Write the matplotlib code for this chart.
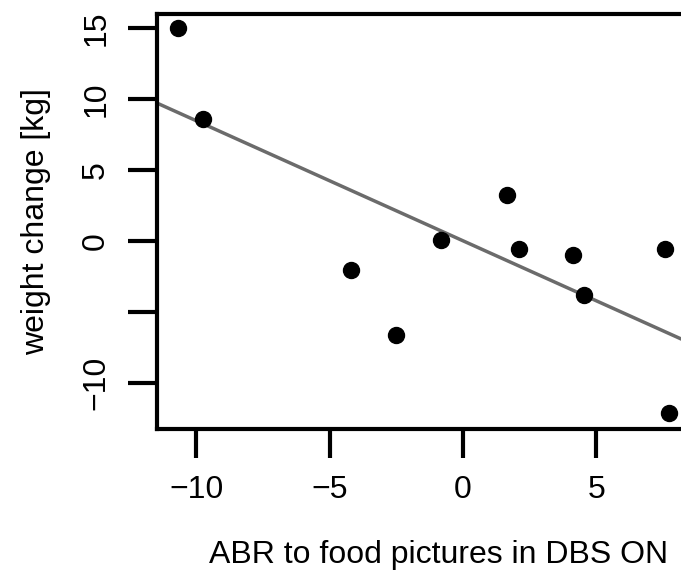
import numpy as np
import matplotlib
matplotlib.use("Agg")
import matplotlib.pyplot as plt

# =====================================
# DATA
# =====================================

abr = [-10.69, -9.75, -4.20, -2.51, -0.82, 1.65, 2.10, 4.12, 4.54, 7.57, 7.72]
weight = [15.0, 8.6, -2.04, -6.62, 0.07, 3.24, -0.56, -0.99, -3.80, -0.56, -12.1]

fit_intercept = 0.02
fit_slope = -0.846

x_ticks = [-10, -5, 0, 5]
x_labels = ["\u221210", "\u22125", "0", "5"]
y_ticks = [-10, -5, 0, 5, 10, 15]
y_labels = ["\u221210", "", "0", "5", "10", "15"]

# =====================================
# PLOT
# =====================================

plt.rcParams["font.family"] = ["Liberation Sans", "DejaVu Sans"]

fig = plt.figure(figsize=(6.81, 5.80), dpi=100)
# the plot box runs on past the right edge of the picture (cropped, as in the original)
ax = fig.add_axes([157 / 681, 1 - 429 / 580, (721 - 157) / 681, (429 - 14) / 580])

ax.plot(abr, weight, "o", color="black", markersize=11.5, zorder=3)
ax.axline((0, fit_intercept), slope=fit_slope, color="#6b6b6b", linewidth=2.5, zorder=2)

ax.set_xlim(-11.47, 9.67)
ax.set_ylim(-13.24, 16.0)

ax.set_xticks(x_ticks)
ax.set_xticklabels(x_labels)
ax.set_yticks(y_ticks)
ax.set_yticklabels(y_labels, rotation=90, va="center")

for s in ["left", "bottom", "top", "right"]:
    ax.spines[s].set_linewidth(3)

ax.tick_params(axis="both", length=21, width=3, labelsize=23, color="black")
ax.tick_params(axis="x", pad=12)
ax.tick_params(axis="y", pad=12)

ax.set_xlabel("ABR to food pictures in DBS ON", fontsize=23, labelpad=25)
ax.set_ylabel("weight change [kg]", fontsize=23, labelpad=22)

fig.savefig("out.png", dpi=100)
